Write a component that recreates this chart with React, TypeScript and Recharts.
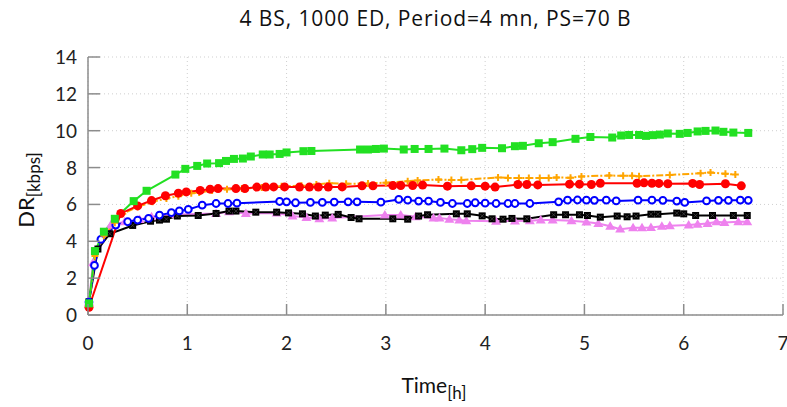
import { LineChart, Line, XAxis, YAxis, CartesianGrid, Label } from 'recharts'

// time in hours, DR in kbps
const greenSeries = [
  [0.01, 0.63], [0.07, 3.47], [0.16, 4.52], [0.27, 5.22], [0.46, 6.18], [0.59, 6.74], [0.88, 7.62],
  [0.98, 7.93], [1.10, 8.09], [1.20, 8.22], [1.32, 8.24], [1.39, 8.36], [1.47, 8.47], [1.56, 8.49],
  [1.64, 8.60], [1.76, 8.71], [1.83, 8.71], [1.93, 8.74], [2.00, 8.82], [2.17, 8.89], [2.25, 8.90],
  [2.74, 8.98], [2.82, 8.98], [2.90, 9.01], [2.98, 9.03], [3.18, 8.98], [3.29, 9.01], [3.43, 9.01],
  [3.59, 9.03], [3.76, 8.94], [3.87, 9.00], [3.97, 9.07], [4.17, 9.05], [4.30, 9.16], [4.38, 9.18],
  [4.54, 9.32], [4.68, 9.38], [4.91, 9.56], [5.06, 9.66], [5.28, 9.63], [5.37, 9.74], [5.45, 9.77],
  [5.55, 9.77], [5.62, 9.72], [5.69, 9.76], [5.76, 9.79], [5.84, 9.85], [5.96, 9.83], [6.04, 9.88],
  [6.14, 9.96], [6.22, 9.99], [6.32, 10.01], [6.40, 9.94], [6.50, 9.90], [6.65, 9.88],
]

const orangeSeries = [
  [0.01, 0.6], [0.07, 3.2], [0.16, 4.3], [0.27, 5.0], [0.35, 5.5], [0.50, 5.87], [0.65, 6.14],
  [0.79, 6.32], [0.91, 6.45], [1.04, 6.6], [1.12, 6.65], [1.25, 6.75], [1.40, 6.82], [1.55, 6.86],
  [1.75, 6.92], [1.95, 6.98], [2.15, 7.02], [2.30, 7.08], [2.43, 7.15], [2.60, 7.12], [2.82, 7.14],
  [3.00, 7.18], [3.22, 7.26], [3.32, 7.30], [3.53, 7.35], [3.66, 7.33], [3.76, 7.33], [4.13, 7.46],
  [4.23, 7.44], [4.34, 7.43], [4.44, 7.44], [4.55, 7.44], [4.64, 7.44], [4.72, 7.46], [4.86, 7.45],
  [4.97, 7.52], [5.25, 7.57], [5.39, 7.55], [5.48, 7.55], [5.55, 7.53], [5.86, 7.6], [6.17, 7.69],
  [6.27, 7.73], [6.42, 7.66], [6.52, 7.62],
]

const redSeries = [
  [0.01, 0.42], [0.33, 5.51], [0.50, 5.92], [0.64, 6.21], [0.78, 6.47], [0.91, 6.61], [0.99, 6.68],
  [1.13, 6.76], [1.23, 6.83], [1.31, 6.86], [1.49, 6.86], [1.58, 6.86], [1.70, 6.94], [1.79, 6.94],
  [1.87, 6.95], [1.98, 6.95], [2.13, 6.94], [2.23, 6.94], [2.32, 6.94], [2.42, 6.94], [2.56, 6.95],
  [2.76, 7.01], [2.87, 7.01], [3.07, 7.03], [3.15, 7.03], [3.27, 7.03], [3.37, 7.05], [3.62, 6.99],
  [3.86, 7.01], [4.00, 6.99], [4.10, 6.94], [4.33, 7.08], [4.42, 7.08], [4.53, 7.06], [4.85, 7.10],
  [4.95, 7.10], [5.07, 7.08], [5.16, 7.15], [5.53, 7.15], [5.60, 7.17], [5.68, 7.15], [5.75, 7.14],
  [5.84, 7.12], [6.09, 7.14], [6.16, 7.08], [6.42, 7.12], [6.58, 7.01],
]

const blueSeries = [
  [0.01, 0.7], [0.065, 2.69], [0.13, 4.1], [0.28, 4.88], [0.40, 5.06], [0.50, 5.15], [0.61, 5.24],
  [0.72, 5.42], [0.84, 5.55], [0.92, 5.65], [1.01, 5.73], [1.15, 5.96], [1.29, 6.05], [1.41, 6.05],
  [1.50, 6.07], [1.93, 6.16], [2.00, 6.14], [2.09, 6.09], [2.24, 6.11], [2.36, 6.11], [2.48, 6.13],
  [2.62, 6.14], [2.71, 6.14], [2.95, 6.12], [3.13, 6.27], [3.22, 6.23], [3.33, 6.18], [3.43, 6.18],
  [3.55, 6.11], [3.67, 6.05], [3.82, 6.05], [3.90, 6.09], [4.00, 6.07], [4.11, 6.05], [4.23, 6.05],
  [4.30, 6.05], [4.45, 6.05], [4.74, 6.14], [4.83, 6.23], [4.93, 6.24], [5.02, 6.23], [5.10, 6.22],
  [5.22, 6.23], [5.32, 6.19], [5.54, 6.23], [5.68, 6.23], [5.79, 6.22], [5.93, 6.18], [6.01, 6.11],
  [6.23, 6.19], [6.35, 6.22], [6.45, 6.22], [6.57, 6.23], [6.65, 6.22],
]

const blackSeries = [
  [0.01, 0.72], [0.10, 3.58], [0.22, 4.41], [0.45, 4.86], [0.63, 5.09], [0.72, 5.15], [0.79, 5.2],
  [0.90, 5.37], [1.11, 5.40], [1.29, 5.51], [1.42, 5.64], [1.49, 5.64], [1.69, 5.58], [1.90, 5.58],
  [2.02, 5.54], [2.16, 5.49], [2.29, 5.37], [2.39, 5.42], [2.52, 5.46], [2.65, 5.29], [2.73, 5.22],
  [3.07, 5.22], [3.22, 5.20], [3.33, 5.37], [3.42, 5.44], [3.71, 5.49], [3.82, 5.49], [3.97, 5.38],
  [4.07, 5.22], [4.18, 5.20], [4.27, 5.24], [4.42, 5.22], [4.69, 5.44], [4.81, 5.44], [4.95, 5.44],
  [5.03, 5.40], [5.16, 5.31], [5.33, 5.37], [5.43, 5.33], [5.52, 5.37], [5.67, 5.47], [5.74, 5.47],
  [5.93, 5.53], [6.00, 5.49], [6.12, 5.40], [6.29, 5.40], [6.50, 5.40], [6.64, 5.40],
]

const violetSeries = [
  [0.01, 0.7], [0.05, 2.84], [0.23, 4.88], [0.37, 5.06], [0.52, 5.18], [0.64, 5.33], [0.74, 5.36],
  [0.89, 5.46], [1.29, 5.51], [1.42, 5.60], [1.59, 5.51], [1.90, 5.54], [2.06, 5.37], [2.20, 5.29],
  [2.33, 5.22], [2.46, 5.26], [2.99, 5.42], [3.15, 5.42], [3.30, 5.33], [3.48, 5.27], [3.54, 5.27],
  [3.64, 5.20], [3.74, 5.15], [3.81, 5.11], [4.11, 5.09], [4.30, 5.10], [4.45, 5.11], [4.56, 5.15],
  [4.68, 5.15], [4.87, 5.11], [5.02, 5.04], [5.14, 4.97], [5.26, 4.82], [5.36, 4.66], [5.49, 4.73],
  [5.58, 4.73], [5.67, 4.75], [5.78, 4.82], [5.86, 4.84], [6.05, 4.89], [6.14, 4.93], [6.24, 4.97],
  [6.33, 5.06], [6.41, 5.02], [6.55, 5.06], [6.64, 5.06],
]

const xTicks = [0, 1, 2, 3, 4, 5, 6, 7]
const yTicks = [0, 2, 4, 6, 8, 10, 12, 14]

const title = '4 BS, 1000 ED, Period=4 mn, PS=70 B'
const FONT = 'Lato, "Open Sans", sans-serif'
const AXIS = '#8c8c8c'

const toPoints = (s: number[][]) => s.map(([t, v]) => ({ t, v }))

const SquareDot = ({ cx, cy, color, size }: any) => (
  <rect x={cx - size / 2} y={cy - size / 2} width={size} height={size} fill={color} />
)

const CircleDot = ({ cx, cy, color }: any) => <circle cx={cx} cy={cy} r={4.5} fill={color} />

const OpenCircleDot = ({ cx, cy, color }: any) => (
  <circle cx={cx} cy={cy} r={3.4} fill="#fff" stroke={color} strokeWidth={2} />
)

const PlusDot = ({ cx, cy, color }: any) => (
  <path d={`M${cx - 3.5},${cy}H${cx + 3.5}M${cx},${cy - 3.5}V${cy + 3.5}`} stroke={color} strokeWidth={2} />
)

const CrossSquareDot = ({ cx, cy }: any) => (
  <g>
    <rect x={cx - 3.5} y={cy - 3.5} width={7} height={7} fill="#000" />
    <path d={`M${cx - 2},${cy - 2}L${cx + 2},${cy + 2}M${cx + 2},${cy - 2}L${cx - 2},${cy + 2}`} stroke="#555" strokeWidth={0.6} />
  </g>
)

const TriangleDot = ({ cx, cy, color }: any) => (
  <path d={`M${cx},${cy - 5}L${cx + 5},${cy + 3.5}L${cx - 5},${cy + 3.5}Z`} fill={color} />
)

const XTick = ({ x, y, payload }: any) => (
  <g>
    <line x1={x} y1={y} x2={x} y2={y - 11} stroke={AXIS} strokeWidth={1.5} />
    <text x={x} y={y + 35} textAnchor="middle" fontSize={19} fill="#222" fontFamily={FONT}>
      {payload.value}
    </text>
  </g>
)

const YTick = ({ x, y, payload }: any) => (
  <g>
    <line x1={x} y1={y} x2={x + 12} y2={y} stroke={AXIS} strokeWidth={1.5} />
    <text x={x - 11} y={y + 7} textAnchor="end" fontSize={19} fill="#222" fontFamily={FONT}>
      {payload.value}
    </text>
  </g>
)

const YLabel = () => (
  <text x={0} y={0} transform="translate(34,190) rotate(-90)" textAnchor="middle" fontSize={22} fill="#111" fontFamily={FONT}>
    DR<tspan fontSize={17} dy={6}>[kbps]</tspan>
  </text>
)

const XLabel = () => (
  <text x={434} y={393} textAnchor="middle" fontSize={21} fill="#111" fontFamily={FONT}>
    Time<tspan fontSize={17} dy={6}>[h]</tspan>
  </text>
)

export default function App() {
  const lines = [
    { key: 'violet', data: violetSeries, color: '#ee82ee', dot: (p: any) => <TriangleDot key={p.key ?? p.index} {...p} color="#ee82ee" /> },
    { key: 'black', data: blackSeries, color: '#000000', dot: (p: any) => <CrossSquareDot key={p.key ?? p.index} {...p} /> },
    { key: 'blue', data: blueSeries, color: '#0000ff', dot: (p: any) => <OpenCircleDot key={p.key ?? p.index} {...p} color="#0000ff" /> },
    { key: 'orange', data: orangeSeries, color: '#ffa500', dash: '7 2 2 2', dot: (p: any) => <PlusDot key={p.key ?? p.index} {...p} color="#ffa500" /> },
    { key: 'red', data: redSeries, color: '#ff0000', dot: (p: any) => <CircleDot key={p.key ?? p.index} {...p} color="#ff0000" /> },
    { key: 'green', data: greenSeries, color: '#22e022', dot: (p: any) => <SquareDot key={p.key ?? p.index} {...p} color="#22e022" size={8} /> },
  ]

  return (
    <div style={{ position: 'absolute', left: 0, top: 0, width: 787, height: 407, background: '#fff' }}>
      <div
        style={{
          position: 'absolute', left: 88, width: 695, top: 4, textAlign: 'center',
          fontFamily: '"Open Sans", sans-serif', fontSize: 21, letterSpacing: 0.9, color: '#111',
        }}
      >
        {title}
      </div>
      <LineChart width={787} height={407} margin={{ top: 57, right: 4, bottom: 32, left: 0 }}>
        <CartesianGrid stroke="#cfcfcf" strokeDasharray="1 3" />
        <XAxis
          dataKey="t"
          type="number"
          domain={[0, 7]}
          ticks={xTicks}
          height={60}
          tickSize={0}
          tickMargin={0}
          tickLine={false}
          axisLine={{ stroke: AXIS, strokeWidth: 1.5 }}
          tick={<XTick />}
          interval={0}
        >
          <Label content={<XLabel />} />
        </XAxis>
        <YAxis
          type="number"
          domain={[0, 14]}
          ticks={yTicks}
          width={88}
          tickSize={0}
          tickMargin={0}
          tickLine={false}
          axisLine={{ stroke: AXIS, strokeWidth: 1.5 }}
          tick={<YTick />}
          interval={0}
        >
          <Label content={<YLabel />} />
        </YAxis>
        {lines.map((l) => (
          <Line
            key={l.key}
            data={toPoints(l.data)}
            dataKey="v"
            type="linear"
            stroke={l.color}
            strokeWidth={2}
            strokeDasharray={l.dash}
            dot={l.dot}
            activeDot={false}
            isAnimationActive={false}
          />
        ))}
      </LineChart>
    </div>
  )
}
